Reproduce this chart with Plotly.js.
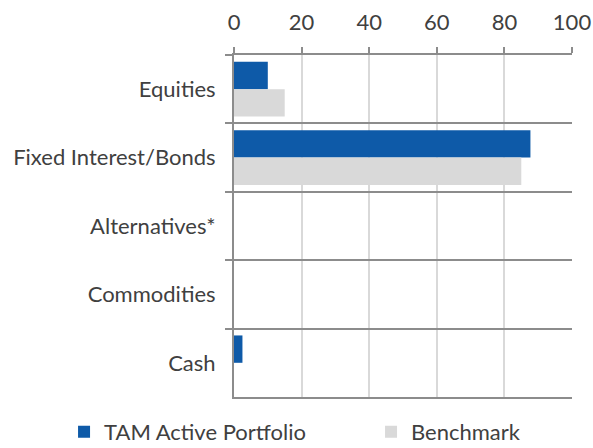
<!DOCTYPE html>
<html><head><meta charset="utf-8">
<script src="https://cdn.plot.ly/plotly-3.0.1.min.js"></script>
<style>html,body{margin:0;padding:0;background:#fff}#chart{width:593px;height:448px}</style>
</head><body><div id="chart"></div>
<script>
const categories = ["Equities", "Fixed Interest/Bonds", "Alternatives*", "Commodities", "Cash"];
const tamValues = [10, 87.7, 0, 0, 2.5];
const benchmarkValues = [15, 85, 0, 0, 0];
const seriesNames = ["TAM Active Portfolio", "Benchmark"];
const xTicks = [0, 20, 40, 60, 80, 100];

const font = {family: "Lato, 'Open Sans', sans-serif", size: 22, color: "#404040"};
const traces = [
  {type: "bar", orientation: "h", name: seriesNames[0], y: categories, x: tamValues,
   marker: {color: "#0e5aa8"}, hoverinfo: "skip", legend: "legend"},
  {type: "bar", orientation: "h", name: seriesNames[1], y: categories, x: benchmarkValues,
   marker: {color: "#d9d9d9"}, hoverinfo: "skip", legend: "legend2"}
];
const legendBase = {orientation: "h", xref: "container", yref: "container",
  xanchor: "left", yanchor: "middle", y: 0.036, font: font, itemwidth: 30,
  bgcolor: "rgba(0,0,0,0)"};
const layout = {
  width: 593, height: 448,
  margin: {l: 234, r: 21, t: 55, b: 51, autoexpand: false},
  paper_bgcolor: "#fff", plot_bgcolor: "#fff",
  font: font,
  barmode: "group", bargap: 0.2, bargroupgap: 0,
  xaxis: {side: "top", range: [0, 100], tickvals: xTicks, ticktext: xTicks.map(String),
    showgrid: true, gridcolor: "#d9d9d9", gridwidth: 2,
    showline: true, linecolor: "#8c8c8c", linewidth: 2, mirror: true,
    ticks: "outside", ticklen: 6, tickcolor: "#8c8c8c", tickwidth: 2,
    ticklabelstandoff: 8,
    zeroline: false, tickfont: font, fixedrange: true},
  yaxis: {type: "category", range: [categories.length - 0.5, -0.5], autorange: false,
    tickson: "boundaries",
    showgrid: true, gridcolor: "#8c8c8c", gridwidth: 2,
    showline: true, linecolor: "#8c8c8c", linewidth: 2,
    ticks: "outside", ticklen: 7, tickcolor: "#8c8c8c", tickwidth: 2,
    ticklabelstandoff: 12, tickfont: font, fixedrange: true},
  showlegend: true,
  legend: Object.assign({}, legendBase, {x: 0.108}),
  legend2: Object.assign({}, legendBase, {x: 0.6257})
};
Plotly.newPlot("chart", traces, layout, {displayModeBar: false, staticPlot: true});
</script></body></html>
